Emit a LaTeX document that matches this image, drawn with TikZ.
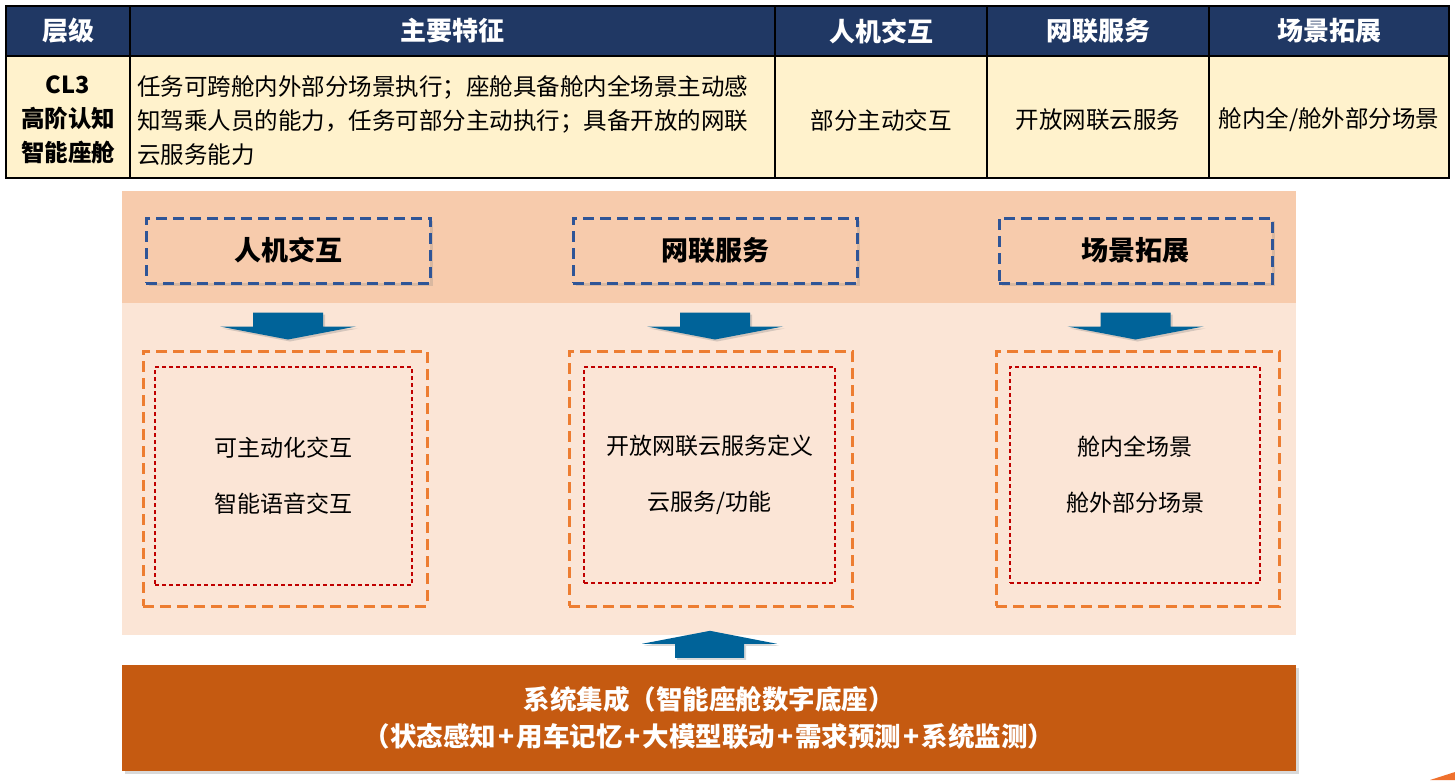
\documentclass[tikz,border=0pt]{standalone}
\usepackage{fontspec}
\setmainfont{Noto Sans CJK SC}
\usetikzlibrary{calc}
\usetikzlibrary{shadows}
\definecolor{hdrblue}{HTML}{203864}
\definecolor{rowyellow}{HTML}{FFF2CC}
\definecolor{bandtop}{HTML}{F7CBAC}
\definecolor{bandlow}{HTML}{FBE5D6}
\definecolor{dashblue}{HTML}{2F5597}
\definecolor{dashorange}{HTML}{ED7D31}
\definecolor{dashred}{HTML}{C00000}
\definecolor{flowblue}{HTML}{006399}
\definecolor{sysorange}{HTML}{C55A11}
\tikzset{
  hdr/.style={text=white, font=\bfseries\fontsize{26}{30}\selectfont, inner sep=0pt},
  cell/.style={font=\fontsize{23.5}{34}\selectfont, inner sep=0pt},
  catbox/.style={draw=dashblue, line width=3pt, dash pattern=on 11pt off 6pt, fill=bandtop,
    drop shadow={opacity=0.25, shadow xshift=3pt, shadow yshift=-3pt},
    font=\bfseries\fontsize{27}{30}\selectfont, inner sep=0pt},
  outbox/.style={draw=dashorange, line width=3pt, dash pattern=on 11pt off 6pt, inner sep=0pt},
  inbox/.style={draw=dashred, line width=1.2pt, dash pattern=on 4pt off 3pt, align=center,
    font=\fontsize{23}{56}\selectfont, inner sep=0pt},
  flowarrow/.style={fill=flowblue, drop shadow={opacity=0.3, shadow xshift=2pt, shadow yshift=-2pt}},
  sysbox/.style={fill=sysorange, text=white, align=center, inner sep=0pt,
    drop shadow={opacity=0.3, shadow xshift=3pt, shadow yshift=-3pt},
    font=\bfseries\fontsize{26.5}{37}\selectfont},
}
\newcommand{\plusgap}{\kern2pt+\kern2pt}
\begin{document}
\begin{tikzpicture}[x=1pt,y=-1pt]
  \useasboundingbox (0,0) rectangle (1455,780);

  % 表格
  \fill[hdrblue] (6,6) rectangle (1449,56);
  \fill[rowyellow] (6,56) rectangle (1449,178);
  \draw[line width=1.5pt] (6,56) -- (1449,56);
  \foreach \x in {130,775,987,1209}
    \draw[line width=1.5pt] (\x,6) -- (\x,178);
  \draw[line width=2pt] (6,6) rectangle (1449,178);

  \node[hdr] (h1) at (68,31) {层级};
  \node[hdr] (h2) at (452,31) {主要特征};
  \node[hdr] (h3) at (881,31) {人机交互};
  \node[hdr] (h4) at (1098,31) {网联服务};
  \node[hdr] (h5) at (1329,31) {场景拓展};

  \node[cell, font=\bfseries\fontsize{23.5}{34}\selectfont, align=center] (c1) at (68,120) {CL3\\高阶认知\\智能座舱};
  \node[cell, anchor=west, align=left] (c2) at (137,120) {任务可跨舱内外部分场景执行；座舱具备舱内全场景主动感\\知驾乘人员的能力，任务可部分主动执行；具备开放的网联\\云服务能力};
  \node[cell] (c3) at (881,120) {部分主动交互};
  \node[cell] (c4) at (1098,120) {开放网联云服务};
  \node[cell] (c5) at (1329,120) {舱内全/舱外部分场景};

  % 背景色带
  \fill[bandtop] (122,191) rectangle (1296,303);
  \fill[bandlow] (122,303) rectangle (1296,635);

  % 三个类别
  \node[catbox, minimum width=284pt, minimum height=65pt] (k1) at (288,250.5) {人机交互};
  \node[catbox, minimum width=284pt, minimum height=65pt] (k2) at (715,250.5) {网联服务};
  \node[catbox, minimum width=273pt, minimum height=65pt] (k3) at (1135.5,250.5) {场景拓展};

  \node[outbox, minimum width=284pt, minimum height=255pt] (o1) at (285,478.5) {};
  \node[outbox, minimum width=283pt, minimum height=255pt] (o2) at (710.5,478.5) {};
  \node[outbox, minimum width=283pt, minimum height=255pt] (o3) at (1137.5,478.5) {};

  \node[inbox, minimum width=257pt, minimum height=218pt] (r1) at (283.5,476) {可主动化交互\\智能语音交互};
  \node[inbox, minimum width=251pt, minimum height=216pt] (r2) at (709.5,475) {开放网联云服务定义\\云服务/功能};
  \node[inbox, minimum width=250pt, minimum height=216pt] (r3) at (1135,475) {舱内全场景\\舱外部分场景};

  % 箭头
  \foreach \n in {k1,k2,k3}
    \fill[flowarrow] ($(\n.south)+(-35,28)$) -- ++(70,0) -- ++(0,14) -- ++(33,0)
      -- ($(\n.south)+(0,55)$) -- ($(\n.south)+(-68,42)$) -- ++(33,0) -- cycle;

  % 系统集成
  \node[sysbox, minimum width=1174pt, minimum height=106pt] (sys) at (709,718) {系统集成（智能座舱数字底座）\\（状态感知\plusgap 用车记忆\plusgap 大模型联动\plusgap 需求预测\plusgap 系统监测）};

  \fill[flowarrow] ($(sys.north)+(-34,-7)$) -- ++(69,0) -- ++(0,-14) -- ++(33,0)
    -- ($(sys.north)+(1,-34)$) -- ($(sys.north)+(-67,-21)$) -- ++(33,0) -- cycle;

  \fill[dashorange!90!red] (1430,780) -- (1455,772) -- (1455,780) -- cycle;
\end{tikzpicture}
\end{document}
